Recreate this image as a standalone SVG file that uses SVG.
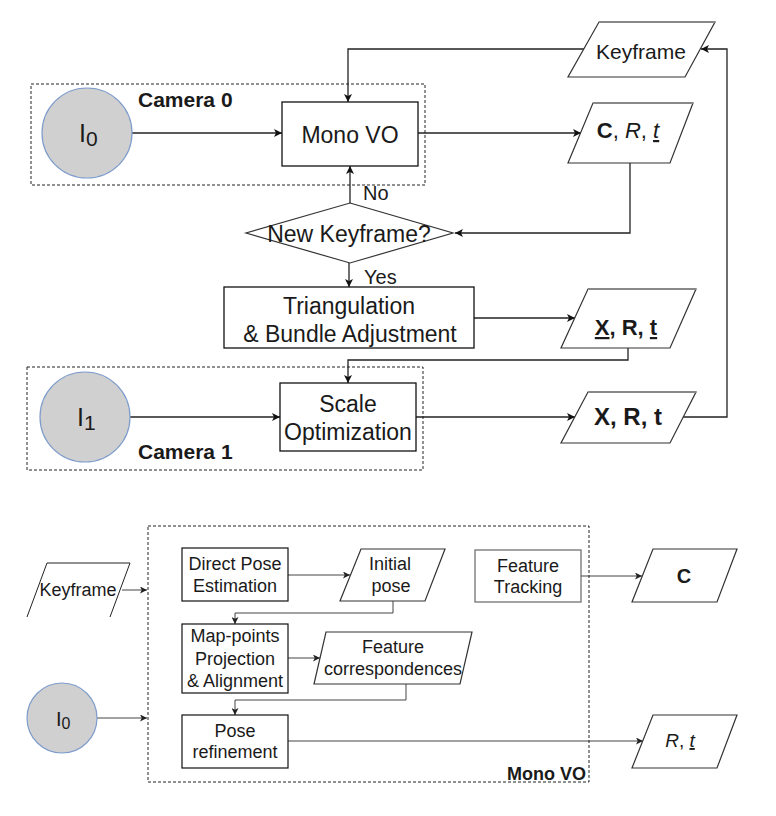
<svg xmlns="http://www.w3.org/2000/svg" width="776" height="816" viewBox="0 0 776 816">
<defs>
<marker id="ah" viewBox="0 0 10 10" refX="10" refY="5" markerWidth="8" markerHeight="8" markerUnits="userSpaceOnUse" orient="auto">
<path d="M0,0 L10,5 L0,10 L2.5,5 z" fill="#111"/>
</marker>
<marker id="ahs" viewBox="0 0 10 10" refX="10" refY="5" markerWidth="7" markerHeight="7" markerUnits="userSpaceOnUse" orient="auto">
<path d="M0,0 L10,5 L0,10 L2.5,5 z" fill="#222"/>
</marker>
</defs>
<style>
text{font-family:"Liberation Sans",Arial,sans-serif;fill:#1a1a1a}
.box{fill:#fff;stroke:#111;stroke-width:1.3}
.sbox{fill:#fff;stroke:#111;stroke-width:1.2}
.gbox{fill:#fff;stroke:#666;stroke-width:1.2}
.para{fill:#fff;stroke:#333;stroke-width:1.2}
.ptop{fill:none;stroke:#888;stroke-width:2.2}
.dash{fill:none;stroke:#222;stroke-width:1;stroke-dasharray:3,2}
.cam{fill:#d0d0d0;stroke:#7e9ccc;stroke-width:1.2}
.c{fill:none;stroke:#222;stroke-width:1.3;marker-end:url(#ah)}
.cl{fill:none;stroke:#222;stroke-width:1.3}
.s{fill:none;stroke:#444;stroke-width:1;marker-end:url(#ahs)}
.t23{font-size:23px;text-anchor:middle}
.t18{font-size:18px;text-anchor:middle}
.lbl{font-size:21px;font-weight:bold}
</style>

<!-- Top section containers -->
<g id="camera0">
<rect class="dash" x="31" y="84" width="394" height="101"/>
<text class="lbl" x="138" y="107">Camera 0</text>
</g>
<g id="camera1">
<rect class="dash" x="27" y="367" width="396" height="103"/>
<text class="lbl" x="138" y="459">Camera 1</text>
</g>

<g id="connectors">
<polyline class="c" points="584,49 348,49 348,102"/>
<line class="c" x1="132" y1="133" x2="282" y2="133"/>
<line class="c" x1="418" y1="133" x2="581" y2="133"/>
<polyline class="c" points="630,163 630,233 455,233"/>
<line class="c" x1="350" y1="203" x2="350" y2="166"/>
<line class="c" x1="349" y1="263" x2="349" y2="287"/>
<line class="c" x1="474" y1="318" x2="575" y2="318"/>
<polyline class="c" points="628,348 628,360 348,360 348,383"/>
<line class="c" x1="130" y1="417" x2="280" y2="417"/>
<line class="c" x1="416" y1="417" x2="575" y2="417"/>
<polyline class="c" points="683,417 727,417 727,49 701,49"/>

<line class="s" x1="122" y1="590" x2="147" y2="590"/>
<line class="s" x1="97" y1="718" x2="147" y2="718"/>
<line class="s" x1="288" y1="575" x2="350" y2="575"/>
<polyline class="s" points="393,601 393,613 235,613 235,624"/>
<line class="s" x1="288" y1="658" x2="320" y2="658"/>
<polyline class="s" points="406,684 406,700 235,700 235,715"/>
<line class="s" x1="288" y1="741" x2="643" y2="741"/>
<line class="s" x1="581" y1="576" x2="642" y2="576"/>
</g>

<g id="keyframe-top">
<polygon class="para" points="599,22 715,22 685,77 568,77"/>
<line class="ptop" x1="599" y1="22" x2="715" y2="22"/>
<text x="641" y="59" font-size="21" text-anchor="middle">Keyframe</text>
</g>

<g id="i0-top">
<circle class="cam" cx="87" cy="133" r="45"/>
<text x="79" y="142" font-size="25">I<tspan font-size="21" dy="4">0</tspan></text>
</g>

<g id="mono-vo">
<rect class="box" x="282" y="102" width="136" height="64"/>
<text class="t23" x="350" y="143">Mono VO</text>
</g>

<g id="crt">
<polygon class="para" points="593,103 693,103 670,163 568,163"/>
<line class="ptop" x1="593" y1="103" x2="693" y2="103"/>
<text x="628" y="138" font-size="22" text-anchor="middle"><tspan font-weight="bold">C</tspan>, <tspan font-style="italic">R</tspan>, <tspan font-style="italic" text-decoration="underline">t</tspan></text>
</g>

<g id="new-keyframe">
<polygon fill="#fff" stroke="#333" stroke-width="1.2" points="350,203 453,233 350,263 246,233"/>
<text class="t23" x="349" y="242">New Keyframe?</text>
<text x="363" y="200" font-size="20">No</text>
<text x="364" y="284" font-size="20">Yes</text>
</g>

<g id="triangulation">
<rect class="box" x="224" y="287" width="250" height="61"/>
<text class="t23" x="349" y="314">Triangulation</text>
<text class="t23" x="350" y="342">&amp; Bundle Adjustment</text>
</g>

<g id="xrt-underlined">
<polygon class="para" points="588,289 696,289 670,348 561,348"/>
<line class="ptop" x1="588" y1="289" x2="696" y2="289"/>
<text x="626" y="335" font-size="22" font-weight="bold" text-anchor="middle"><tspan text-decoration="underline">X</tspan>, R, <tspan text-decoration="underline">t</tspan></text>
</g>

<g id="i1">
<circle class="cam" cx="85" cy="417" r="45"/>
<text x="77" y="426" font-size="25">I<tspan font-size="21" dy="4">1</tspan></text>
</g>

<g id="scale-opt">
<rect class="box" x="280" y="383" width="136" height="68"/>
<text class="t23" x="348" y="412">Scale</text>
<text class="t23" x="348" y="440">Optimization</text>
</g>

<g id="xrt">
<polygon class="para" points="588,392 696,392 670,443 561,443"/>
<line class="ptop" x1="588" y1="392" x2="696" y2="392"/>
<text x="628" y="425" font-size="24" font-weight="bold" text-anchor="middle">X, R, t</text>
</g>

<!-- Bottom section -->
<g id="mono-vo-detail">
<rect class="dash" x="148" y="526" width="441" height="256"/>
<text x="586" y="780" font-size="18" font-weight="bold" text-anchor="end">Mono VO</text>
</g>

<g id="keyframe-bottom">
<polyline fill="none" stroke="#222" stroke-width="1" points="27,617 47,563 130,563 110,617"/>
<text class="t18" x="78" y="596">Keyframe</text>
</g>

<g id="i0-bottom">
<circle class="cam" cx="62" cy="718" r="35"/>
<text x="56" y="726" font-size="20">I<tspan font-size="16" dy="3">0</tspan></text>
</g>

<g id="direct-pose">
<rect class="sbox" x="182" y="548" width="106" height="53"/>
<text class="t18" x="235" y="570">Direct Pose</text>
<text class="t18" x="235" y="592">Estimation</text>
</g>

<g id="initial-pose">
<polygon class="para" points="361,549 445,549 425,601 340,601"/>
<text class="t18" x="390" y="570">Initial</text>
<text class="t18" x="391" y="592">pose</text>
</g>

<g id="feature-tracking">
<rect class="gbox" x="475" y="550" width="106" height="52"/>
<text class="t18" x="528" y="572">Feature</text>
<text class="t18" x="528" y="593">Tracking</text>
</g>

<g id="c-out">
<polygon class="para" points="653,549 737,549 717,602 632,602"/>
<text x="684" y="583" font-size="20" font-weight="bold" text-anchor="middle">C</text>
</g>

<g id="map-points">
<rect class="sbox" x="182" y="624" width="106" height="69"/>
<text class="t18" x="235" y="642">Map-points</text>
<text class="t18" x="235" y="665">Projection</text>
<text class="t18" x="235" y="687">&amp; Alignment</text>
</g>

<g id="feature-corr">
<polygon class="para" points="326,632 472,632 460,684 314,684"/>
<text class="t18" x="393" y="653">Feature</text>
<text class="t18" x="393" y="675">correspondences</text>
</g>

<g id="pose-refinement">
<rect class="sbox" x="182" y="715" width="106" height="53"/>
<text class="t18" x="235" y="737">Pose</text>
<text class="t18" x="235" y="758">refinement</text>
</g>

<g id="rt-out">
<polygon class="para" points="653,715 737,715 717,768 632,768"/>
<text x="680" y="747" font-size="19" text-anchor="middle"><tspan font-style="italic">R</tspan>, <tspan font-style="italic" text-decoration="underline">t</tspan></text>
</g>
</svg>
